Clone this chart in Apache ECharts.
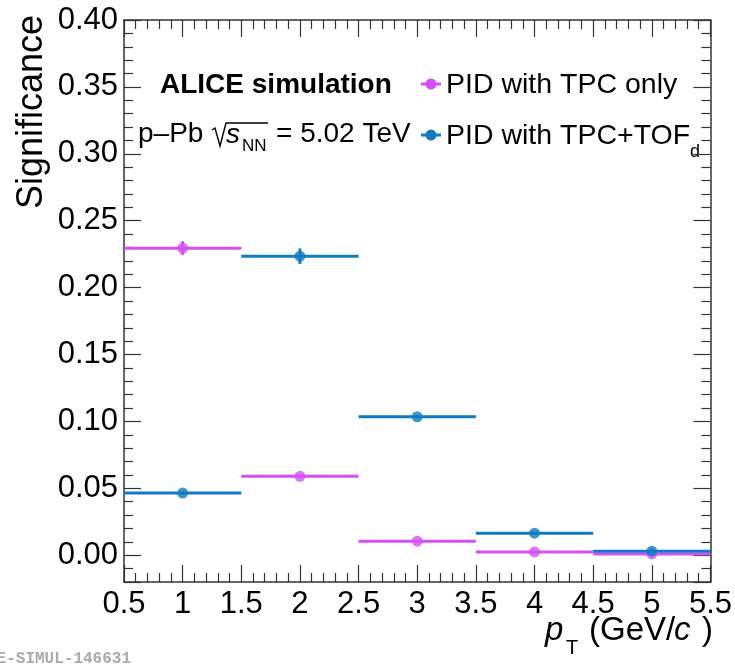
<!DOCTYPE html>
<html>
<head>
<meta charset="utf-8">
<script src="https://cdn.jsdelivr.net/npm/echarts@6/dist/echarts.min.js"></script>
<style>
html,body{margin:0;padding:0;background:#fff;}
#chart{width:735px;height:664px;}
</style>
</head>
<body>
<div id="chart"></div>
<script>
// Data
const binLow = [0.5, 1.5, 2.5, 3.5, 4.5];
const binHigh = [1.5, 2.5, 3.5, 4.5, 5.5];
const binCenter = [1, 2, 3, 4, 5];
const tpcOnly = [0.2295, 0.0590, 0.0105, 0.0025, 0.0010];
const tpcOnlyErr = [0.0052, 0.0010, 0.0008, 0.0005, 0.0004];
const tpcTof = [0.0465, 0.2235, 0.1035, 0.0165, 0.0030];
const tpcTofErr = [0.0012, 0.0058, 0.0010, 0.0008, 0.0005];
const xTicks = [0.5, 1, 1.5, 2, 2.5, 3, 3.5, 4, 4.5, 5, 5.5];

const MAGENTA = '#d64ff6';
const BLUE = '#0f7cc1';
const FRAME = '#333';
const FONT = '"Liberation Sans", Arial, Helvetica, sans-serif';

function binData(vals, errs) {
  return vals.map((v, i) => [binLow[i], binHigh[i], binCenter[i], v, errs[i]]);
}
function makeRender(color) {
  return function (params, api) {
    const y = api.value(3), e = api.value(4), xc = api.value(2);
    const a = api.coord([api.value(0), y]);
    const b = api.coord([api.value(1), y]);
    const t = api.coord([xc, y + e]);
    const d = api.coord([xc, y - e]);
    return {
      type: 'group',
      children: [
        { type: 'line', shape: { x1: a[0], y1: a[1], x2: b[0], y2: b[1] }, style: { stroke: color, lineWidth: 3 } },
        { type: 'line', shape: { x1: t[0], y1: t[1], x2: d[0], y2: d[1] }, style: { stroke: color, lineWidth: 3 } }
      ]
    };
  };
}

const chart = echarts.init(document.getElementById('chart'), null, { renderer: 'canvas' });

const tickStyle = { color: FRAME, width: 1.2 };
function xAxisDef(pos, showLabels) {
  return {
    type: 'value', position: pos, min: 0.5, max: 5.5, interval: 0.5,
    axisLine: { show: true, onZero: false, lineStyle: { color: FRAME, width: 1.5 } },
    axisTick: { show: true, inside: true, length: 17, lineStyle: tickStyle },
    minorTick: { show: true, splitNumber: 5, length: 9, lineStyle: tickStyle },
    axisLabel: { show: showLabels, color: '#000', fontSize: 31, fontFamily: FONT, margin: 7,
      formatter: v => String(xTicks.find(t => Math.abs(t - v) < 1e-9) ?? v) },
    splitLine: { show: false }
  };
}
function yAxisDef(pos, showLabels) {
  return {
    type: 'value', position: pos, min: -0.02, max: 0.40, splitNumber: 8,
    axisLine: { show: true, onZero: false, lineStyle: { color: FRAME, width: 1.5 } },
    axisTick: { show: true, inside: true, length: 17, lineStyle: tickStyle },
    minorTick: { show: true, splitNumber: 5, length: 9, lineStyle: tickStyle },
    axisLabel: { show: showLabels, color: '#000', fontSize: 31, fontFamily: FONT, margin: 6,
      showMinLabel: false,
      formatter: v => (v < -0.001 ? '' : v.toFixed(2)) },
    splitLine: { show: false }
  };
}

const option = {
  backgroundColor: '#fff',
  animation: false,
  grid: { left: 124, right: 23, top: 20, bottom: 82, containLabel: false },
  xAxis: [xAxisDef('bottom', true), xAxisDef('top', false)],
  yAxis: [yAxisDef('left', true), yAxisDef('right', false)],
  series: [
    { type: 'custom', name: 'PID with TPC only', xAxisIndex: 0, yAxisIndex: 0,
      renderItem: makeRender(MAGENTA), data: binData(tpcOnly, tpcOnlyErr),
      encode: { x: [0, 1, 2], y: 3 }, z: 2 },
    { type: 'scatter', xAxisIndex: 0, yAxisIndex: 0, symbol: 'circle', symbolSize: 11,
      itemStyle: { color: MAGENTA }, data: tpcOnly.map((v, i) => [binCenter[i], v]), z: 3 },
    { type: 'custom', name: 'PID with TPC+TOF', xAxisIndex: 0, yAxisIndex: 0,
      renderItem: makeRender(BLUE), data: binData(tpcTof, tpcTofErr),
      encode: { x: [0, 1, 2], y: 3 }, z: 4 },
    { type: 'scatter', xAxisIndex: 0, yAxisIndex: 0, symbol: 'circle', symbolSize: 11,
      itemStyle: { color: BLUE }, data: tpcTof.map((v, i) => [binCenter[i], v]), z: 5 }
  ],
  graphic: [
    // y axis title
    { type: 'text', x: 32, y: 15, rotation: Math.PI / 2,
      style: { text: 'Significance', font: '36px ' + FONT, fill: '#000', align: 'right', verticalAlign: 'middle' } },
    // x axis title
    { type: 'text', x: 545, y: 631, style: { text: 'p', font: 'italic 33px ' + FONT, fill: '#000', verticalAlign: 'middle' } },
    { type: 'text', x: 566, y: 648, style: { text: 'T', font: '20px ' + FONT, fill: '#000', verticalAlign: 'middle' } },
    { type: 'text', x: 589, y: 631, style: { text: '(GeV/', font: '33px ' + FONT, fill: '#000', verticalAlign: 'middle' } },
    { type: 'text', x: 674, y: 631, style: { text: 'c', font: 'italic 33px ' + FONT, fill: '#000', verticalAlign: 'middle' } },
    { type: 'text', x: 702, y: 631, style: { text: ')', font: '33px ' + FONT, fill: '#000', verticalAlign: 'middle' } },
    // labels
    { type: 'text', x: 160, y: 85, style: { text: 'ALICE simulation', font: 'bold 28px ' + FONT, fill: '#000', verticalAlign: 'middle' } },
    { type: 'text', x: 138, y: 134, style: { text: 'p\u2013Pb', font: '28px ' + FONT, fill: '#000', verticalAlign: 'middle' } },
    { type: 'polyline', shape: { points: [[212, 130], [215, 128], [220, 146], [226, 123], [268, 123]] },
      style: { stroke: '#000', lineWidth: 1.4, fill: null } },
    { type: 'text', x: 226, y: 135, style: { text: 's', font: 'italic 28px ' + FONT, fill: '#000', verticalAlign: 'middle' } },
    { type: 'text', x: 242, y: 146, style: { text: 'NN', font: '17px ' + FONT, fill: '#000', verticalAlign: 'middle' } },
    { type: 'text', x: 276, y: 134, style: { text: '= 5.02 TeV', font: '28px ' + FONT, fill: '#000', verticalAlign: 'middle' } },
    // legend
    { type: 'line', shape: { x1: 421, y1: 84, x2: 441, y2: 84 }, style: { stroke: MAGENTA, lineWidth: 3 } },
    { type: 'circle', shape: { cx: 431, cy: 84, r: 5.5 }, style: { fill: MAGENTA } },
    { type: 'text', x: 446, y: 85, style: { text: 'PID with TPC only', font: '28.5px ' + FONT, fill: '#000', verticalAlign: 'middle' } },
    { type: 'line', shape: { x1: 421, y1: 135, x2: 441, y2: 135 }, style: { stroke: BLUE, lineWidth: 3 } },
    { type: 'circle', shape: { cx: 431, cy: 135, r: 5.5 }, style: { fill: BLUE } },
    { type: 'text', x: 446, y: 136, style: { text: 'PID with TPC+TOF', font: '28.5px ' + FONT, fill: '#000', verticalAlign: 'middle' } },
    { type: 'text', x: 690, y: 152, style: { text: 'd', font: '18px ' + FONT, fill: '#000', verticalAlign: 'middle' } },
    // watermark
    { type: 'text', x: 131, y: 659, style: { text: 'ALICE-SIMUL-146631', font: 'bold 16px "Liberation Mono", "DejaVu Sans Mono", monospace', fill: '#aaa', align: 'right', verticalAlign: 'middle' } }
  ]
};
chart.setOption(option);
</script>
</body>
</html>
